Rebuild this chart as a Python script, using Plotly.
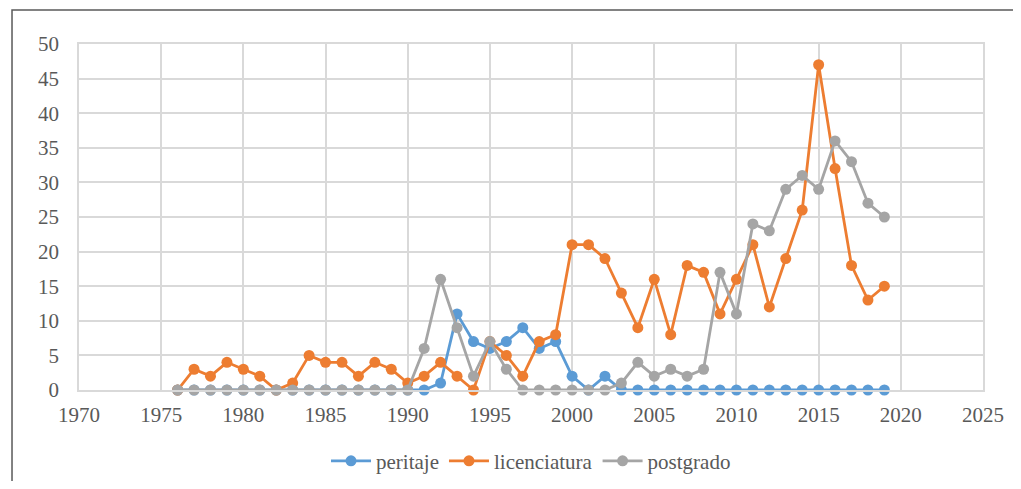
import plotly.graph_objects as go

years = list(range(1976, 2020))
peritaje = [0, 0, 0, 0, 0, 0, 0, 0, 0, 0, 0, 0, 0, 0, 0,
            0, 1, 11, 7, 6, 7, 9, 6, 7, 2, 0, 2, 0,
            0, 0, 0, 0, 0, 0, 0, 0, 0, 0, 0, 0, 0, 0, 0, 0]
licenciatura = [0, 3, 2, 4, 3, 2, 0, 1, 5, 4, 4, 2, 4, 3, 1,
                2, 4, 2, 0, 7, 5, 2, 7, 8, 21, 21, 19, 14,
                9, 16, 8, 18, 17, 11, 16, 21, 12, 19, 26, 47, 32, 18, 13, 15]
postgrado = [0, 0, 0, 0, 0, 0, 0, 0, 0, 0, 0, 0, 0, 0, 0,
             6, 16, 9, 2, 7, 3, 0, 0, 0, 0, 0, 0, 1,
             4, 2, 3, 2, 3, 17, 11, 24, 23, 29, 31, 29, 36, 33, 27, 25]

series = [("peritaje", peritaje, "#5B9BD5"),
          ("licenciatura", licenciatura, "#ED7D31"),
          ("postgrado", postgrado, "#A5A5A5")]

fig = go.Figure()
for name, vals, col in series:
    fig.add_trace(go.Scatter(
        x=years, y=vals, name=name, mode="lines+markers",
        line=dict(color=col, width=2.8),
        marker=dict(color=col, size=11),
        cliponaxis=False,
    ))

font_fam = "Liberation Serif, Times New Roman, serif"
fig.update_layout(
    width=1005, height=473,
    margin=dict(l=71, r=30, t=36, b=91, autoexpand=False),
    paper_bgcolor="white", plot_bgcolor="white",
    font=dict(family=font_fam, size=21, color="#595959"),
    showlegend=True,
    legend=dict(orientation="h", x=0.5, xanchor="center",
                yref="container", y=0.042, yanchor="middle",
                font=dict(family=font_fam, size=21, color="#595959"),
                itemwidth=40, traceorder="normal"),
    xaxis=dict(range=[1970, 2025], tickvals=list(range(1970, 2026, 5)),
               showgrid=True, gridcolor="#D9D9D9", gridwidth=1.5,
               showline=True, linecolor="#D9D9D9", linewidth=1.5, mirror=True,
               zeroline=False, ticks="", ticklabelstandoff=5, automargin=False),
    yaxis=dict(range=[0, 50], tickvals=list(range(0, 51, 5)),
               showgrid=True, gridcolor="#D9D9D9", gridwidth=1.5,
               showline=True, linecolor="#D9D9D9", linewidth=1.5, mirror=True,
               zeroline=False, ticks="", ticklabelstandoff=14, automargin=False),
    shapes=[dict(type="rect", xref="paper", yref="paper",
                 x0=-0.0741, x1=1.08, y0=-0.35, y1=1.098,
                 line=dict(color="#595959", width=1.5), layer="below")],
)

fig.write_html("out.html")
